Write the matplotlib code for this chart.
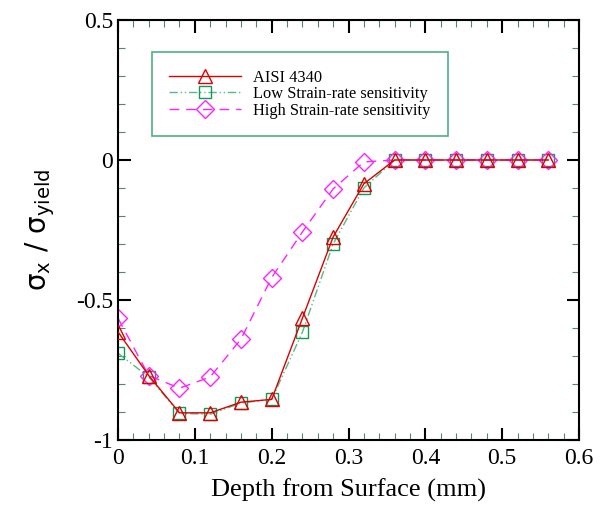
import matplotlib
matplotlib.use("Agg")
import matplotlib.pyplot as plt
from matplotlib.ticker import MultipleLocator, FormatStrFormatter

depth_mm = [0.0, 0.04, 0.08, 0.12, 0.16, 0.20, 0.24, 0.28, 0.32, 0.36,
            0.40, 0.44, 0.48, 0.52, 0.56]
aisi_4340 = [-0.614, -0.77, -0.903, -0.903, -0.865, -0.855, -0.565, -0.275,
             -0.085, 0.0, 0.0, 0.0, 0.0, 0.0, 0.0]
low_rate = [-0.69, -0.775, -0.905, -0.908, -0.868, -0.855, -0.615, -0.30,
            -0.10, 0.0, 0.0, 0.0, 0.0, 0.0, 0.0]
high_rate = [-0.565, -0.77, -0.815, -0.775, -0.64, -0.42, -0.257, -0.103,
             -0.007, 0.0, 0.0, 0.0, 0.0, 0.0, 0.0]

plt.rcParams["font.family"] = ["Liberation Serif", "DejaVu Serif"]

fig = plt.figure(figsize=(6.04, 5.09), dpi=100)
ax = fig.add_axes([0.1954, 0.1356, 0.7632, 0.8251])

ax.plot(depth_mm, aisi_4340, color="#dd0000", lw=1.0, ls="-",
        marker="^", ms=10, mfc="none", mec="#dd0000", mew=1.0,
        label="AISI 4340", zorder=3)
ax.plot(depth_mm, low_rate, color="#55bb88", lw=1.0, ls=(0, (6, 2, 1, 2, 1, 2)),
        marker="s", ms=8.5, mfc="none", mec="#119955", mew=1.0,
        label="Low Strain-rate sensitivity", zorder=2)
ax.plot(depth_mm, high_rate, color="#ff22ff", lw=1.0, ls=(0, (7, 5)),
        marker="D", ms=9, mfc="none", mec="#ff22ff", mew=1.0,
        label="High Strain-rate sensitivity", zorder=2.5)

ax.set_xlim(0, 0.6)
ax.set_ylim(-1, 0.5)
ax.xaxis.set_major_locator(MultipleLocator(0.1))
ax.xaxis.set_minor_locator(MultipleLocator(0.02))
ax.yaxis.set_major_locator(MultipleLocator(0.5))
ax.yaxis.set_minor_locator(MultipleLocator(0.1))
ax.xaxis.set_major_formatter(FormatStrFormatter("%g"))
ax.yaxis.set_major_formatter(FormatStrFormatter("%g"))

ax.tick_params(which="both", direction="in", top=True, right=True,
               labelsize=17, colors="black")
ax.tick_params(which="major", length=9, width=1.5)
ax.tick_params(which="minor", length=5, width=0.8, color="#558866")
ax.tick_params(axis="x", pad=6)
for s in ax.spines.values():
    s.set_linewidth(1.5)

ax.set_xlabel("Depth from Surface (mm)", fontsize=19, labelpad=7)
ax.set_ylabel(r"$\mathregular{\sigma_x\ /\ \sigma_{yield}}$", fontsize=20,
              family="DejaVu Sans", labelpad=14)

leg = ax.legend(loc="upper left", bbox_to_anchor=(0.074, 0.923),
                fontsize=11.8, frameon=True, fancybox=False,
                handlelength=4.4, borderpad=1.05, labelspacing=0.03,
                handletextpad=0.7, borderaxespad=0)
leg.get_frame().set_edgecolor("#229966")
leg.get_frame().set_linewidth(1.2)

fig.savefig("out.png", dpi=100)
